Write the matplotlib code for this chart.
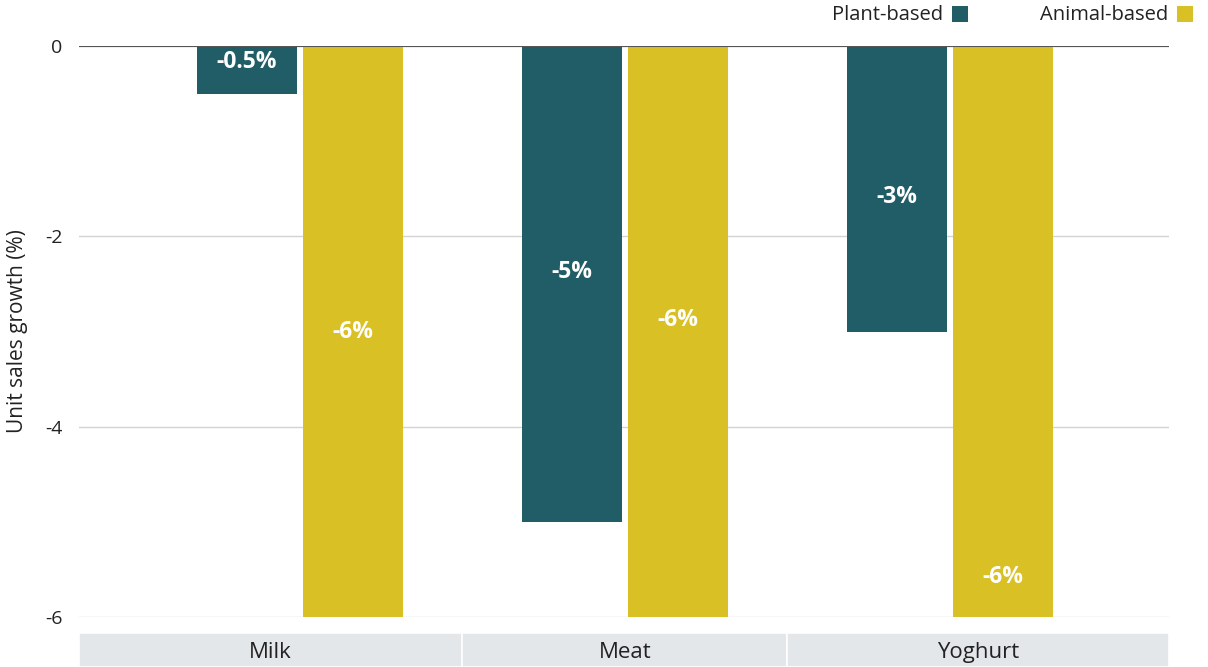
import matplotlib.pyplot as plt
import numpy as np
from matplotlib.patches import Rectangle

# === data ===
categories = ["Milk", "Meat", "Yoghurt"]
plant_based = [-0.5, -5, -3]
animal_based = [-6, -6, -6]
plant_labels = ["-0.5%", "-5%", "-3%"]
animal_labels = ["-6%", "-6%", "-6%"]

# where the label sits along each bar (fraction of bar length)
plant_label_frac = [0.34, 0.476, 0.53]
animal_label_frac = [0.5, 0.48, 0.93]

teal = "#215d66"
yellow = "#d9c024"

plt.rcParams['font.family'] = ['Open Sans', 'DejaVu Sans']

fig = plt.figure(figsize=(12.08, 6.67), dpi=100)
W, H = 1208, 667
x_left, x_right = -0.68, 2.674

# === main axes ===
ax = fig.add_axes([79 / W, (H - 617) / H, (1169 - 79) / W, (617 - 46) / H])
x = np.arange(len(categories))
bw = 0.31
off = 0.163
ax.bar(x - off, plant_based, bw, color=teal, zorder=3)
ax.bar(x + off, animal_based, bw, color=yellow, zorder=3)

for i in range(len(categories)):
    ax.text(x[i] - off, plant_based[i] * plant_label_frac[i], plant_labels[i],
            ha='center', va='center', color='white', fontsize=16.5, fontweight='bold', zorder=4)
    ax.text(x[i] + off, animal_based[i] * animal_label_frac[i], animal_labels[i],
            ha='center', va='center', color='white', fontsize=16.5, fontweight='bold', zorder=4)

ax.set_xlim(x_left, x_right)
ax.set_ylim(-6, 0)
ax.set_yticks([0, -2, -4, -6])
ax.set_yticklabels(["0", "-2", "-4", "-6"])
ax.set_xticks([])
ax.tick_params(axis='y', length=0, pad=12, labelsize=14, labelcolor='#222222')
ax.grid(axis='y', color='#d3d3d3', linewidth=1, zorder=0)
ax.axhline(0, color='#555555', linewidth=1.5, zorder=5)
for s in ax.spines.values():
    s.set_visible(False)
ax.set_ylabel("Unit sales growth (%)", fontsize=15, color='#222222')
ax.yaxis.set_label_coords(-0.047, 0.5)

# === category band ===
band = fig.add_axes([79 / W, 0, (1169 - 79) / W, 34 / H])
band.set_xlim(x_left, x_right)
band.set_ylim(0, 1)
edges = [x_left, 0.5, 1.5, x_right]
for i, name in enumerate(categories):
    band.add_patch(Rectangle((edges[i], 0), edges[i + 1] - edges[i], 1,
                             facecolor='#e4e7ea', edgecolor='white', linewidth=1.2))
    band.text((edges[i] + edges[i + 1]) / 2, 0.42, name, ha='center', va='center',
              fontsize=16, color='#222222')
band.axis('off')

# === legend ===
fig.text(943 / W, 1 - 15 / H, "Plant-based", ha='right', va='center', fontsize=14.5, color='#222222')
fig.patches.append(Rectangle((952 / W, 1 - 22 / H), 16 / W, 16 / H, transform=fig.transFigure,
                             facecolor=teal, edgecolor='none'))
fig.text(1168 / W, 1 - 15 / H, "Animal-based", ha='right', va='center', fontsize=14.5, color='#222222')
fig.patches.append(Rectangle((1177 / W, 1 - 22 / H), 16 / W, 16 / H, transform=fig.transFigure,
                             facecolor=yellow, edgecolor='none'))

plt.savefig("out.png", dpi=100)
